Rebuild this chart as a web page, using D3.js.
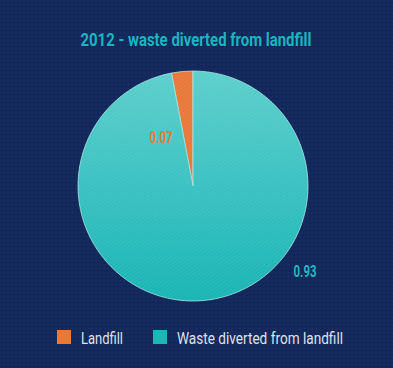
<!DOCTYPE html>
<html>
<head>
<meta charset="utf-8">
<script src="https://cdn.jsdelivr.net/npm/d3@7"></script>
<style>
  html, body { margin: 0; padding: 0; background: #13285b; }
  svg { display: block; }
</style>
</head>
<body>
<svg id="chart" width="393" height="368"></svg>
<script>
'use strict';

// slice sizes as drawn, and the labels printed on the chart
var categories = ['Landfill', 'Waste diverted from landfill'];
var values = [0.03, 0.97];
var labels = ['0.07', '0.93'];
var colors = ['#e8793a', '#2cbfbf'];

var W = 393, H = 368;
var cx = 193, cy = 186, R = 115;

var svg = d3.select('#chart');
var defs = svg.append('defs');

// background with faint noise
var noise = defs.append('pattern').attr('id', 'noise')
  .attr('width', 4).attr('height', 4).attr('patternUnits', 'userSpaceOnUse');
noise.append('rect').attr('width', 4).attr('height', 4).attr('fill', '#13285b');
noise.append('rect').attr('x', 0).attr('y', 0).attr('width', 1).attr('height', 1).attr('fill', '#1a3266');
noise.append('rect').attr('x', 2).attr('y', 2).attr('width', 1).attr('height', 1).attr('fill', '#0f2352');
noise.append('rect').attr('x', 3).attr('y', 1).attr('width', 1).attr('height', 1).attr('fill', '#17306a');
svg.append('rect').attr('width', W).attr('height', H).attr('fill', 'url(#noise)');

// pie shading, lighter at the top
var grad = defs.append('linearGradient').attr('id', 'tealGrad')
  .attr('x1', 0).attr('y1', 0).attr('x2', 0).attr('y2', 1);
grad.append('stop').attr('offset', '0%').attr('stop-color', '#5ccfcd');
grad.append('stop').attr('offset', '100%').attr('stop-color', '#18b4b4');

var hatch = defs.append('pattern').attr('id', 'hatch')
  .attr('width', 3).attr('height', 3).attr('patternUnits', 'userSpaceOnUse')
  .attr('patternTransform', 'rotate(-35)');
hatch.append('rect').attr('width', 3).attr('height', 1).attr('fill', '#ffffff').attr('opacity', 0.06);

svg.append('text')
  .attr('x', 196).attr('y', 46)
  .attr('text-anchor', 'middle')
  .attr('font-family', 'Roboto, "Liberation Sans", sans-serif')
  .attr('font-weight', 'bold')
  .attr('font-size', 18.5)
  .attr('textLength', 231).attr('lengthAdjust', 'spacingAndGlyphs')
  .attr('fill', '#1cb4c0')
  .text('2012 - waste diverted from landfill');

var pie = d3.pie().sort(null).value(function (d) { return d; })
  .startAngle(-2 * Math.PI * values[0]).endAngle(2 * Math.PI - 2 * Math.PI * values[0]);
var arc = d3.arc().innerRadius(0).outerRadius(R);
var arcs = pie(values);

var g = svg.append('g').attr('transform', 'translate(' + cx + ',' + cy + ')');

g.selectAll('path.slice').data(arcs).enter().append('path')
  .attr('class', 'slice')
  .attr('d', arc)
  .attr('fill', function (d, i) { return i === 0 ? colors[0] : 'url(#tealGrad)'; })
  .attr('stroke', '#a8e6e4')
  .attr('stroke-width', 0.8);

g.selectAll('path.tex').data(arcs).enter().append('path')
  .attr('class', 'tex')
  .attr('d', arc)
  .attr('fill', 'url(#hatch)');

// value labels
var labelPos = [[161, 143], [305, 277]];
svg.selectAll('text.val').data(labels).enter().append('text')
  .attr('class', 'val')
  .attr('x', function (d, i) { return labelPos[i][0]; })
  .attr('y', function (d, i) { return labelPos[i][1]; })
  .attr('text-anchor', 'middle')
  .attr('font-family', 'Roboto, "Liberation Sans", sans-serif')
  .attr('font-weight', 'bold')
  .attr('font-size', 16)
  .attr('textLength', 23).attr('lengthAdjust', 'spacingAndGlyphs')
  .attr('fill', function (d, i) { return i === 0 ? '#e8793a' : '#22b8c0'; })
  .text(function (d) { return d; });

// legend
var legendX = [57, 153];
var legendW = [42, 166];
var leg = svg.selectAll('g.leg').data(categories).enter().append('g')
  .attr('class', 'leg')
  .attr('transform', function (d, i) { return 'translate(' + legendX[i] + ',330)'; });
leg.append('rect').attr('width', 14).attr('height', 14)
  .attr('fill', function (d, i) { return i === 0 ? colors[0] : '#1cb8b8'; });
leg.append('text')
  .attr('x', 24).attr('y', 13.5)
  .attr('font-family', 'Roboto, "Liberation Sans", sans-serif')
  .attr('font-size', 16.5)
  .attr('textLength', function (d, i) { return legendW[i]; })
  .attr('lengthAdjust', 'spacingAndGlyphs')
  .attr('fill', '#dfe3ee')
  .text(function (d) { return d; });
</script>
</body>
</html>
